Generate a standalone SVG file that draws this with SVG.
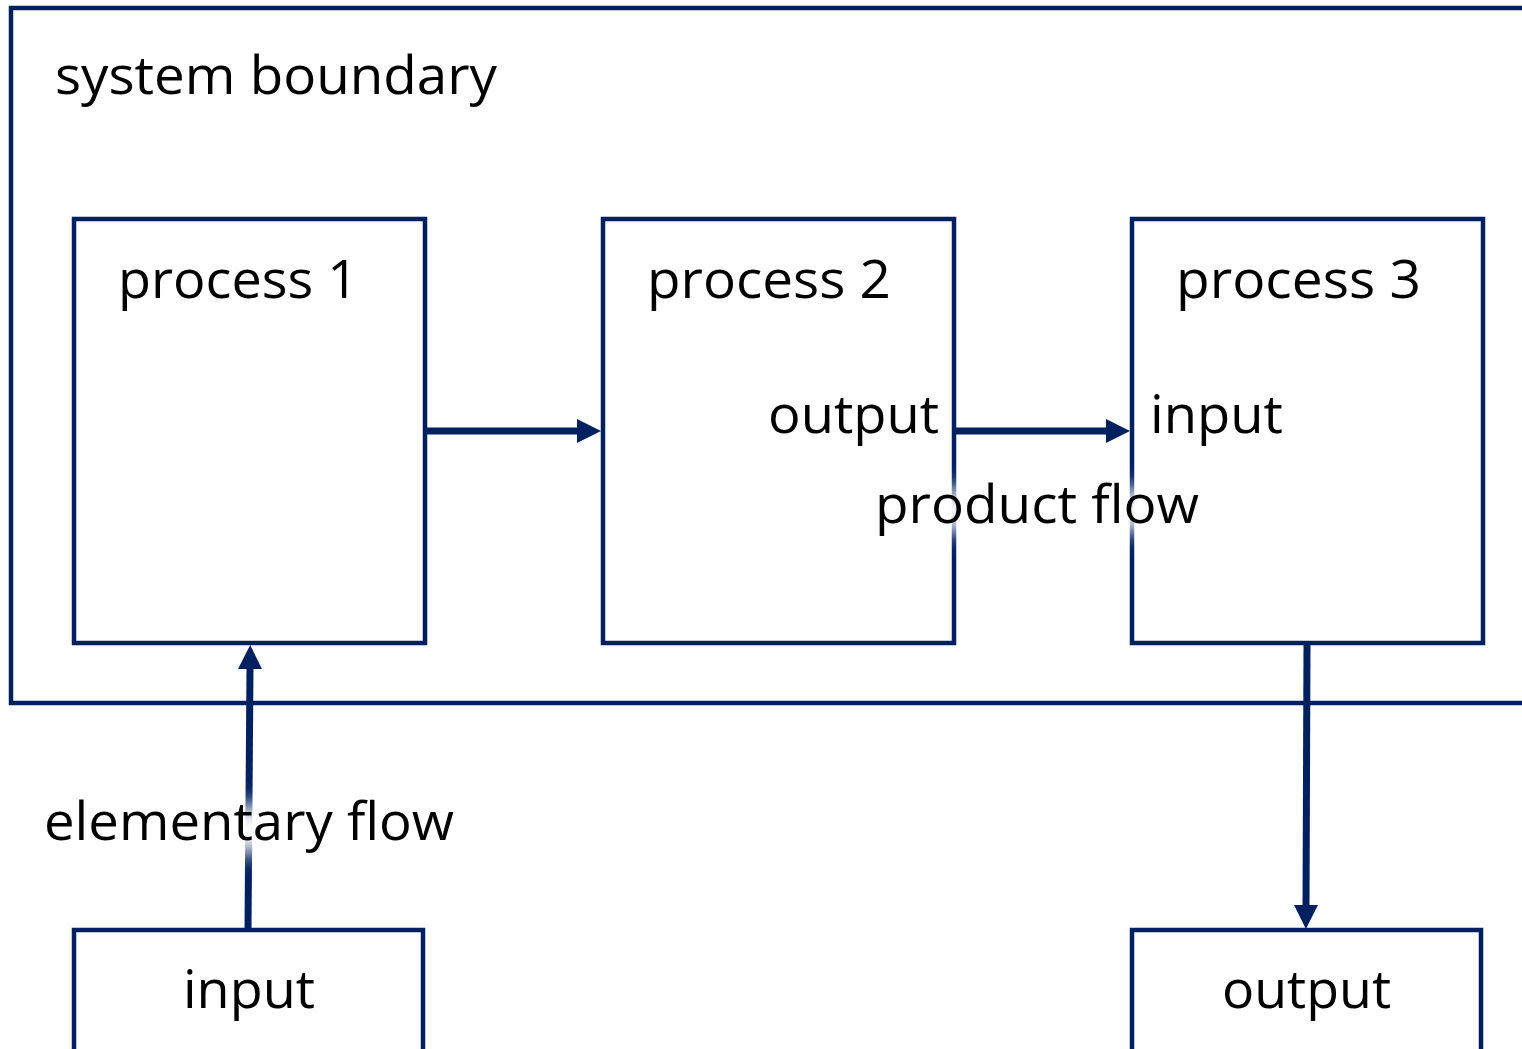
<svg xmlns="http://www.w3.org/2000/svg" width="1522" height="1049" viewBox="0 0 1522 1049">
<defs>
<style>
.box{fill:none;stroke:#002060;stroke-width:4.5}
.bnd{fill:none;stroke:#002060;stroke-width:4.5}
.con{fill:none;stroke:#002060;stroke-width:7}
.lbl{font-family:"Open Sans","DejaVu Sans",sans-serif;font-size:53px;fill:#000}
.halo{fill:#fff;filter:url(#blur)}
</style>
<filter id="blur" x="-30%" y="-100%" width="160%" height="300%">
<feGaussianBlur stdDeviation="11"/>
</filter>
<marker id="ah" viewBox="0 0 24 24" refX="0" refY="12" markerWidth="24" markerHeight="24" markerUnits="userSpaceOnUse" orient="auto">
<path d="M0,0 L24,12 L0,24 Z" fill="#002060"/>
</marker>
</defs>
<rect width="1522" height="1049" fill="#fff"/>
<g id="system-boundary">
<path class="bnd" d="M1524,8 H11 V703 H1524"/>
<text class="lbl" x="55" y="94" textLength="442" lengthAdjust="spacingAndGlyphs">system boundary</text>
</g>
<g id="process1">
<rect class="box" x="74" y="219" width="351" height="424"/>
<text class="lbl" x="118" y="298" textLength="240" lengthAdjust="spacingAndGlyphs">process 1</text>
</g>
<g id="process2">
<rect class="box" x="603" y="219" width="351" height="424"/>
<text class="lbl" x="647" y="298" textLength="244" lengthAdjust="spacingAndGlyphs">process 2</text>
<text class="lbl" x="768" y="433" textLength="171" lengthAdjust="spacingAndGlyphs">output</text>
</g>
<g id="process3">
<rect class="box" x="1132" y="219" width="351" height="424"/>
<text class="lbl" x="1176" y="298" textLength="245" lengthAdjust="spacingAndGlyphs">process 3</text>
<text class="lbl" x="1150" y="433" textLength="133" lengthAdjust="spacingAndGlyphs">input</text>
</g>
<g id="input">
<rect class="box" x="74" y="930" width="349" height="125"/>
<text class="lbl" x="183" y="1008" textLength="132" lengthAdjust="spacingAndGlyphs">input</text>
</g>
<g id="output">
<rect class="box" x="1132" y="930" width="349" height="125"/>
<text class="lbl" x="1222" y="1008" textLength="169" lengthAdjust="spacingAndGlyphs">output</text>
</g>
<g id="connectors">
<line class="con" x1="427" y1="431" x2="577" y2="431" marker-end="url(#ah)"/>
<line class="con" x1="956" y1="431" x2="1106" y2="431" marker-end="url(#ah)"/>
<line class="con" x1="248" y1="928" x2="250" y2="669" marker-end="url(#ah)"/>
<line class="con" x1="1307" y1="645" x2="1306" y2="905" marker-end="url(#ah)"/>
</g>
<g id="label-product-flow">
<rect class="halo" x="872" y="490" width="330" height="40"/>
<text class="lbl" x="875" y="523" textLength="324" lengthAdjust="spacingAndGlyphs">product flow</text>
</g>
<g id="label-elementary-flow">
<rect class="halo" x="40" y="806" width="418" height="46"/>
<text class="lbl" x="44" y="840" textLength="410" lengthAdjust="spacingAndGlyphs">elementary flow</text>
</g>
</svg>
